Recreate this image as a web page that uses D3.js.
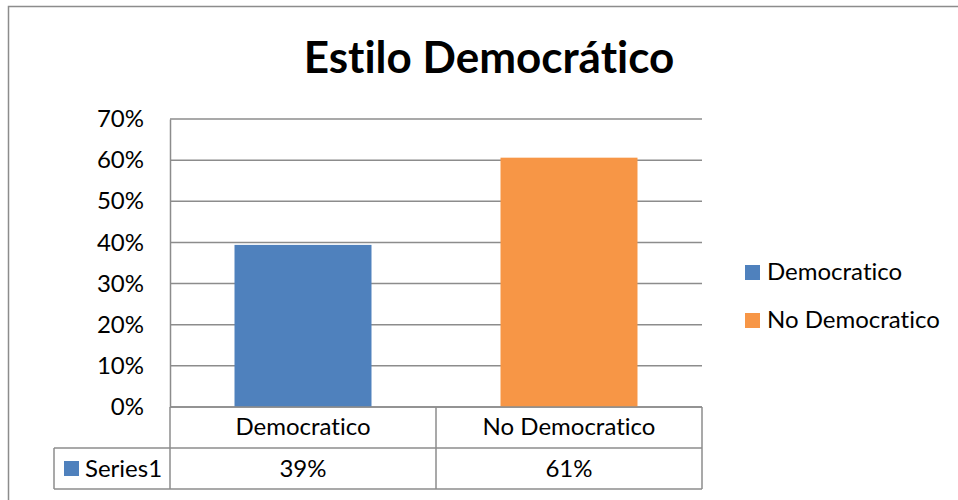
<!DOCTYPE html>
<html>
<head>
<meta charset="utf-8">
<script src="https://cdn.jsdelivr.net/npm/d3@7"></script>
<style>
  body { margin: 0; background: #fff; }
  text { font-family: Lato, "Open Sans", sans-serif; fill: #000; font-variant-ligatures: none; font-feature-settings: "liga" 0, "clig" 0; }
</style>
</head>
<body>
<svg width="958" height="500"></svg>
<script>
// chart data
var categories = ["Democratico", "No Democratico"];
var values = [0.394, 0.606];
var tableLabels = ["39%", "61%"];
var seriesName = "Series1";
var colors = ["#4f81bd", "#f79646"];
var yTicks = [0, 0.1, 0.2, 0.3, 0.4, 0.5, 0.6, 0.7];

var svg = d3.select("svg");
var gray = "#8c8c8c";
var fontSize = "24px";

// outer chart border (right / bottom run off the page)
svg.append("rect")
    .attr("x", 8.5).attr("y", 6.5)
    .attr("width", 960).attr("height", 500)
    .attr("fill", "none")
    .attr("stroke", gray)
    .attr("stroke-width", 1.5);

svg.append("text")
    .attr("x", 489).attr("y", 73)
    .attr("text-anchor", "middle")
    .style("font-size", "44px")
    .style("font-weight", "bold")
    .text("Estilo Democrático");

var plotLeft = 170, plotRight = 702, plotTop = 119, plotBottom = 407;

var yScale = d3.scaleLinear()
    .domain([0, 0.7])
    .range([plotBottom, plotTop]);

var xScale = d3.scaleBand()
    .domain(categories)
    .range([plotLeft, plotRight])
    .paddingInner(0.485)
    .paddingOuter(0.2425);

var colScale = d3.scaleBand()
    .domain(categories)
    .range([plotLeft, plotRight]);

// gridlines
svg.append("g")
    .selectAll("line")
    .data(yTicks)
    .enter()
    .append("line")
    .attr("x1", plotLeft).attr("x2", plotRight)
    .attr("y1", function(d) { return yScale(d); })
    .attr("y2", function(d) { return yScale(d); })
    .attr("stroke", gray)
    .attr("stroke-width", 1.5);

// y axis labels
var yAxis = d3.axisLeft(yScale)
    .tickValues(yTicks)
    .tickFormat(d3.format(".0%"))
    .tickSize(0)
    .tickPadding(26);

var yg = svg.append("g")
    .attr("transform", "translate(" + plotLeft + ",0)")
    .call(yAxis);
yg.select(".domain").attr("stroke", gray).attr("stroke-width", 1.5);
yg.selectAll("text")
    .style("font-size", fontSize)
    .style("font-family", "Lato, sans-serif")
    .attr("fill", "#000");

// bars
svg.append("g")
    .selectAll("rect")
    .data(values)
    .enter()
    .append("rect")
    .attr("x", function(d, i) { return xScale(categories[i]); })
    .attr("width", xScale.bandwidth())
    .attr("y", function(d) { return yScale(d); })
    .attr("height", function(d) { return plotBottom - yScale(d); })
    .attr("fill", function(d, i) { return colors[i]; });

// data table
var row1 = plotBottom, row2 = 448, row3 = 489, tableLeft = 54;
var tbl = svg.append("g")
    .attr("stroke", gray)
    .attr("stroke-width", 1.5);
tbl.append("line").attr("x1", plotLeft).attr("x2", plotRight).attr("y1", row1).attr("y2", row1);
tbl.append("line").attr("x1", tableLeft).attr("x2", plotRight).attr("y1", row2).attr("y2", row2);
tbl.append("line").attr("x1", tableLeft).attr("x2", plotRight).attr("y1", row3).attr("y2", row3);
tbl.append("line").attr("x1", tableLeft).attr("x2", tableLeft).attr("y1", row2).attr("y2", row3);
tbl.selectAll(".col")
    .data([plotLeft].concat(categories.map(function(c) { return colScale(c) + colScale.bandwidth(); })))
    .enter()
    .append("line")
    .attr("x1", function(d) { return d; })
    .attr("x2", function(d) { return d; })
    .attr("y1", row1).attr("y2", row3);

svg.append("g")
    .selectAll("text")
    .data(categories)
    .enter()
    .append("text")
    .attr("x", function(d) { return colScale(d) + colScale.bandwidth() / 2; })
    .attr("y", 435)
    .attr("text-anchor", "middle")
    .style("font-size", fontSize)
    .text(function(d) { return d; });

svg.append("g")
    .selectAll("text")
    .data(tableLabels)
    .enter()
    .append("text")
    .attr("x", function(d, i) { return colScale(categories[i]) + colScale.bandwidth() / 2; })
    .attr("y", 477)
    .attr("text-anchor", "middle")
    .style("font-size", fontSize)
    .text(function(d) { return d; });

svg.append("rect")
    .attr("x", 64).attr("y", 461)
    .attr("width", 15).attr("height", 15)
    .attr("fill", colors[0]);
svg.append("text")
    .attr("x", 85).attr("y", 477)
    .style("font-size", fontSize)
    .text(seriesName);

// legend
var legend = svg.append("g")
    .selectAll("g")
    .data(categories)
    .enter()
    .append("g")
    .attr("transform", function(d, i) { return "translate(745," + (265 + i * 48) + ")"; });
legend.append("rect")
    .attr("width", 15).attr("height", 15)
    .attr("fill", function(d, i) { return colors[i]; });
legend.append("text")
    .attr("x", 22).attr("y", 15)
    .style("font-size", fontSize)
    .text(function(d) { return d; });
</script>
</body>
</html>
